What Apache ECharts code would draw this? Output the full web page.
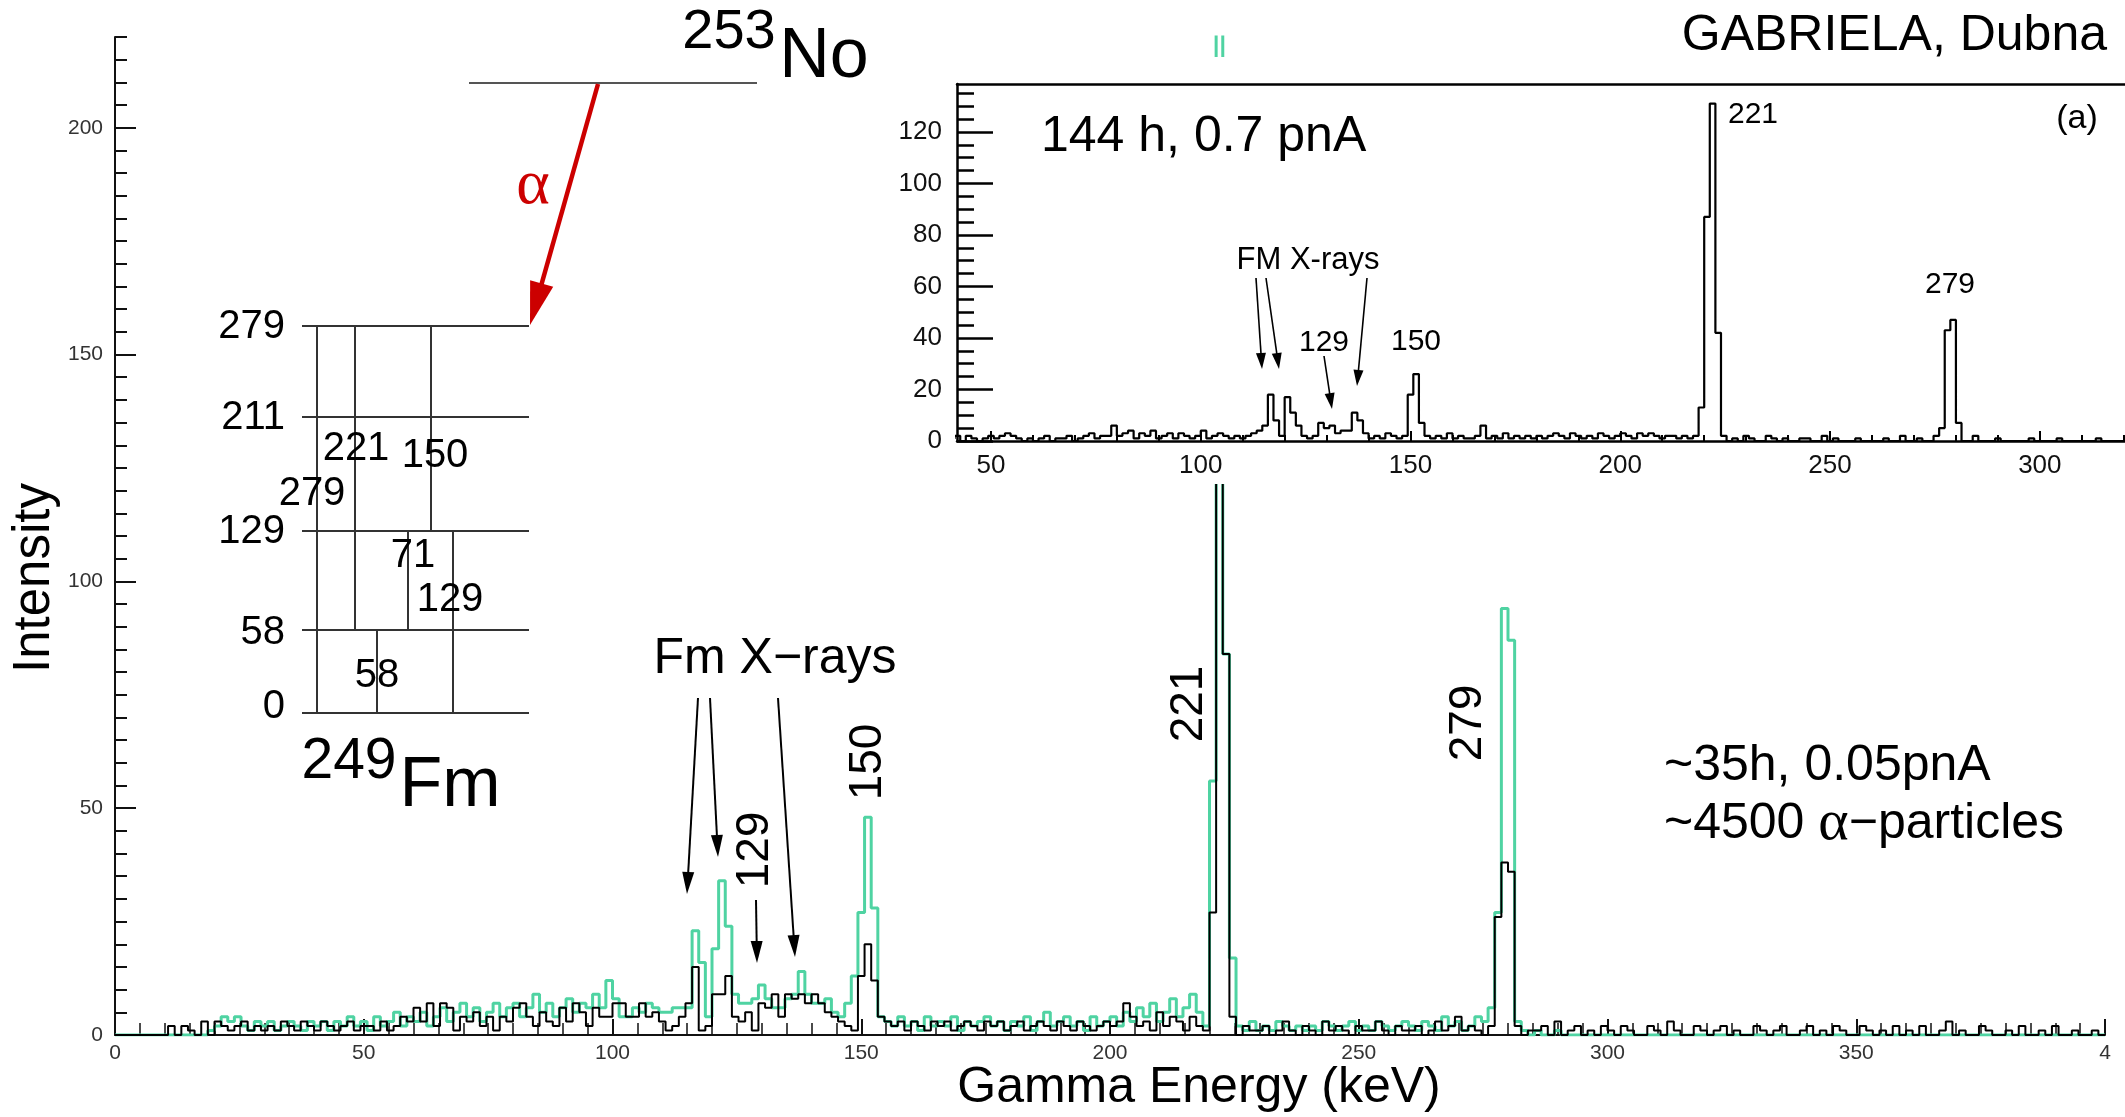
<!DOCTYPE html>
<html><head><meta charset="utf-8">
<script src="https://cdn.jsdelivr.net/npm/echarts@6/dist/echarts.min.js"></script>
<style>html,body{margin:0;padding:0;background:#fff}#c{width:2125px;height:1117px}</style>
</head><body><div id="c"></div><script>
// ---------- data ----------
const BIN = 4 / 3;           // keV per channel
const MAIN_START = 0;        // keV of first channel (main spectrum)
const INSET_START = 40;      // keV of first channel (inset spectrum)

// main spectrum, black (low-intensity run) counts per channel, 0-400 keV
const mainBlack = [
 0,0,0,0,0,0,0,0,2,0,2,1,0,3,0,
 3,2,1,2,3,1,2,1,2,1,3,2,1,3,2,
 1,3,2,1,2,3,1,2,2,1,3,1,2,4,3,
 6,3,7,2,7,6,1,4,3,5,2,4,1,4,3,
 6,7,4,2,5,3,2,6,3,7,5,2,6,4,4,
 7,7,4,4,7,4,5,3,1,2,4,7,15,1,2,
 9,9,13,4,3,5,1,7,6,9,4,9,8,9,7,
 9,7,5,4,3,2,1,13,20,12,4,3,2,3,1,
 3,2,1,3,2,3,1,2,3,2,1,3,2,3,1,
 2,3,1,2,3,2,1,3,2,1,3,2,1,2,3,
 2,3,7,4,2,3,1,5,2,4,3,1,4,2,1,
 27,140,84,4,0,2,1,1,2,0,1,3,1,0,2,
 1,0,3,1,2,1,0,2,1,1,3,1,0,2,1,
 1,2,0,1,3,1,2,4,1,2,1,0,2,26,38,
 36,2,0,1,1,2,0,3,0,1,2,0,1,0,2,
 1,0,2,1,0,0,2,1,0,3,1,0,0,2,1,
 0,1,2,0,1,0,0,2,1,0,1,2,0,0,1,
 2,0,1,0,2,1,0,0,2,1,0,1,0,2,0,
 1,0,2,0,0,1,3,0,1,0,0,2,1,0,0,
 1,0,2,0,0,1,0,2,0,0,1,0,0,1,0
];
// main spectrum, green counts per channel
const mainGreen = [
 0,0,0,0,0,0,0,0,0,0,0,0,0,0,1,
 2,4,3,4,2,1,3,2,3,1,2,3,2,1,3,
 2,3,1,3,2,4,2,3,1,4,2,3,5,2,4,
 3,5,2,4,6,3,5,7,4,6,3,5,7,4,6,
 7,4,6,9,5,7,4,6,8,5,7,6,9,6,12,
 8,4,4,6,5,7,6,5,5,6,6,6,23,16,4,
 19,34,24,9,7,7,8,11,8,6,6,8,9,14,9,
 7,7,8,5,4,7,13,27,48,28,4,3,2,4,2,
 3,1,4,2,3,2,4,1,3,2,3,4,2,3,1,
 3,2,4,1,3,5,2,3,4,2,3,1,4,2,3,
 4,2,5,3,6,4,7,3,5,8,4,6,9,5,2,
 56,225,84,17,2,1,3,1,2,1,3,2,1,2,1,
 2,1,3,2,1,2,3,1,2,1,3,2,1,2,3,
 2,1,3,2,1,4,2,3,1,2,4,3,6,27,94,
 87,3,1,0,1,0,0,1,0,0,0,0,0,0,0,
 0,0,0,0,0,0,0,0,0,0,0,0,0,0,0,
 0,0,0,0,0,0,0,0,0,0,0,0,0,0,0,
 0,0,0,0,0,0,0,0,0,0,0,0,0,0,0,
 0,0,0,0,0,0,0,0,0,0,0,0,0,0,0,
 0,0,0,0,0,0,0,0,0,0,0,0,0,0,0
];
// inset (a): 144 h, 0.7 pnA, counts per channel from 40 keV
const insetCounts = [
 1,2,0,2,1,0,1,2,1,2,3,2,1,0,1,
 0,1,2,0,1,1,2,0,1,2,3,1,2,2,6,
 2,3,4,1,3,2,4,1,2,3,1,3,2,1,2,
 4,1,2,3,2,1,2,1,2,3,4,6,18,8,2,
 17,11,6,2,1,2,7,5,6,3,4,4,11,8,3,
 1,2,1,3,2,1,2,18,26,7,2,1,2,1,3,
 1,2,1,1,2,6,1,2,1,3,1,2,1,2,1,
 2,1,2,3,2,1,3,2,1,2,1,3,2,1,2,
 3,2,1,3,2,3,2,1,2,2,1,2,1,2,13,
 87,131,42,2,0,1,0,2,1,0,0,2,1,0,1,
 0,0,1,1,0,0,2,0,1,0,0,0,1,0,0,
 0,0,1,0,0,2,0,0,1,0,0,2,5,43,47,
 7,0,0,2,0,0,0,1,0,0,0,0,0,1,0,
 0,0,0,1,0,0,0,0,0,0,1,0,0,0,0
];
// tick labels
const mainYTicks = [0, 50, 100, 150, 200];
const insetXTicks = [50, 100, 150, 200, 250, 300];
const insetYTicks = [0, 20, 40, 60, 80, 100, 120];

// ---------- helpers ----------
const FONT = '"Liberation Sans", Arial, Helvetica, sans-serif';
const SERIF = '"Liberation Serif", "DejaVu Serif", serif';
function steps(counts, start) {
  const pts = counts.map((c, i) => [start + i * BIN, c]);
  pts.push([start + counts.length * BIN, counts[counts.length - 1]]);
  return pts;
}
function range(a, b, s) { const r = []; for (let v = a; v <= b + 1e-9; v += s) r.push(v); return r; }
function txt(text, x, y, size, o) {
  o = o || {};
  const st = { text: text, fontSize: size, fontFamily: o.family || FONT, fill: o.color || '#000',
      align: o.align || 'center', verticalAlign: o.va || 'middle' };
  if (o.rich) st.rich = o.rich;
  return { type: 'text', x: x, y: y, z: 20, rotation: o.rot || 0, style: st };
}
function seg(x1, y1, x2, y2, color, lw) {
  return { type: 'line', z: 20, shape: { x1, y1, x2, y2 }, style: { stroke: color || '#333', lineWidth: lw || 2 } };
}
function arrow(x1, y1, x2, y2, len, w, color, lw) {
  const dx = x2 - x1, dy = y2 - y1, L = Math.hypot(dx, dy), ux = dx / L, uy = dy / L;
  const bx = x2 - ux * len, by = y2 - uy * len, nx = -uy, ny = ux;
  return [seg(x1, y1, bx + ux * 2, by + uy * 2, color, lw),
    { type: 'polygon', z: 20, shape: { points: [[x2, y2], [bx + nx * w / 2, by + ny * w / 2], [bx - nx * w / 2, by - ny * w / 2]] }, style: { fill: color } }];
}

// ---------- graphic annotations ----------
const G = [];
// white panel behind inset
G.push({ type: 'rect', z: 5, shape: { x: 880, y: 57, width: 1245, height: 427 }, style: { fill: '#fff' } });
// axis titles
G.push(txt('Intensity', 35, 578, 51, { rot: Math.PI / 2 }));
G.push(txt('Gamma Energy (keV)', 1199, 1088, 50));
G.push(txt('GABRIELA, Dubna', 2107, 36, 50, { align: 'right' }));
// 253No level and alpha decay
G.push(txt('253', 729, 33, 56));
G.push(txt('No', 824, 58, 70));
G.push(seg(469, 83, 757, 83, '#555', 2));
G.push(...arrow(598, 84, 530, 325, 43, 24, '#cc0000', 4.5));
G.push(txt('\u03b1', 533, 186, 64, { color: '#cc0000', family: SERIF }));
// 249Fm level scheme
const levX1 = 302, levX2 = 529;
const levels = [[279, 326], [211, 417], [129, 531], [58, 630], [0, 713]];
levels.forEach(l => { G.push(seg(levX1, l[1], levX2, l[1], '#333', 2)); });
[['279', 327], ['211', 418], ['129', 532], ['58', 633], ['0', 707]].forEach(l => G.push(txt(l[0], 285, l[1], 40, { align: 'right' })));
G.push(seg(317, 326, 317, 713), seg(355, 326, 355, 630), seg(431, 326, 431, 531),
  seg(408, 531, 408, 630), seg(453, 531, 453, 713), seg(377, 630, 377, 713));
G.push(txt('221', 356, 449, 40), txt('150', 435, 456, 40), txt('279', 312, 494, 40),
  txt('71', 413, 556, 40), txt('129', 450, 600, 40), txt('58', 377, 676, 40));
G.push(txt('249', 349, 762, 57));
G.push(txt('Fm', 450, 787, 70));
// main spectrum annotations
G.push(txt('Fm X\u2212rays', 775, 659, 50));
G.push(...arrow(698, 698, 687, 894, 22, 12, '#000', 2));
G.push(...arrow(710, 698, 718, 857, 22, 12, '#000', 2));
G.push(...arrow(778, 698, 795, 957, 22, 12, '#000', 2));
G.push(...arrow(756, 900, 757, 963, 22, 12, '#000', 2));
G.push(txt('129', 755, 850, 46, { rot: Math.PI / 2 }));
G.push(txt('150', 868, 762, 46, { rot: Math.PI / 2 }));
G.push(txt('221', 1189, 704, 46, { rot: Math.PI / 2 }));
G.push(txt('279', 1468, 723, 46, { rot: Math.PI / 2 }));
G.push(txt('~35h, 0.05pnA', 1664, 766, 50, { align: 'left' }));
G.push(txt('~4500 {a|\u03b1}\u2212particles', 1664, 824, 50, { align: 'left',
  rich: { a: { fontFamily: SERIF, fontSize: 58, fill: '#000' } } }));
// inset annotations
G.push(txt('144 h, 0.7 pnA', 1041, 137, 50, { align: 'left' }));
G.push(txt('(a)', 2077, 119, 34));
G.push(txt('221', 1753, 115, 30));
G.push(txt('279', 1950, 285, 30));
G.push(txt('FM X-rays', 1308, 260, 31));
G.push(txt('129', 1324, 343, 30));
G.push(txt('150', 1416, 342, 30));
G.push(...arrow(1256, 278, 1262, 369, 16, 10, '#000', 1.6));
G.push(...arrow(1266, 278, 1279, 369, 16, 10, '#000', 1.6));
G.push(...arrow(1367, 278, 1357, 386, 16, 10, '#000', 1.6));
G.push(...arrow(1324, 356, 1332, 409, 16, 10, '#000', 1.6));

// ---------- chart ----------
const chart = echarts.init(document.getElementById('c'), null, { renderer: 'canvas' });
const mainLabel = { fontSize: 21, color: '#333', fontFamily: FONT };
const insetLabel = { fontSize: 26, color: '#111', fontFamily: FONT };
const INX = [41.9, 320.3], INY = [0, 138.6];
chart.setOption({
  animation: false,
  backgroundColor: '#fff',
  grid: [
    { left: 115, right: 20, top: 37, bottom: 82 },
    { left: 957, right: 0, top: 84, bottom: 676 }
  ],
  xAxis: [
    { type: 'value', gridIndex: 0, min: 0, max: 400, interval: 50,
      axisLine: { lineStyle: { color: '#111', width: 2 } },
      axisTick: { inside: true, length: 16, lineStyle: { color: '#111', width: 2 } },
      minorTick: { show: true, splitNumber: 10, length: 12, lineStyle: { color: '#111', width: 1.5 } },
      splitLine: { show: false },
      axisLabel: Object.assign({ margin: 8, formatter: v => v === 400 ? '4' : String(v) }, mainLabel) },
    { type: 'value', gridIndex: 1, min: INX[0], max: INX[1], z: 10, position: 'bottom',
      axisLine: { lineStyle: { color: '#000', width: 2.5 } },
      axisTick: { inside: true, length: 10, customValues: insetXTicks, lineStyle: { color: '#000', width: 2 } },
      splitLine: { show: false },
      axisLabel: Object.assign({ margin: 12, customValues: insetXTicks }, insetLabel) },
    { type: 'value', gridIndex: 1, min: INX[0], max: INX[1], z: 10, position: 'bottom',
      axisLine: { show: false },
      axisTick: { inside: true, length: 6, customValues: range(50, 320, 10), lineStyle: { color: '#000', width: 2 } },
      splitLine: { show: false }, axisLabel: { show: false } },
    { type: 'value', gridIndex: 1, min: INX[0], max: INX[1], z: 10, position: 'top',
      axisLine: { lineStyle: { color: '#000', width: 2.5 } },
      axisTick: { show: false }, splitLine: { show: false }, axisLabel: { show: false } }
  ],
  yAxis: [
    { type: 'value', gridIndex: 0, min: 0, max: 220, position: 'left',
      axisLine: { show: true, lineStyle: { color: '#111', width: 2 } },
      axisTick: { show: true, inside: true, length: 21, customValues: mainYTicks, lineStyle: { color: '#111', width: 2 } },
      splitLine: { show: false },
      axisLabel: Object.assign({ margin: 12, customValues: mainYTicks }, mainLabel) },
    { type: 'value', gridIndex: 0, min: 0, max: 220, position: 'left',
      axisLine: { show: false },
      axisTick: { show: true, inside: true, length: 12, customValues: range(5, 220, 5), lineStyle: { color: '#111', width: 2 } },
      splitLine: { show: false }, axisLabel: { show: false } },
    { type: 'value', gridIndex: 1, min: INY[0], max: INY[1], position: 'left', z: 10,
      axisLine: { show: true, lineStyle: { color: '#000', width: 2.5 } },
      axisTick: { show: true, inside: true, length: 36, customValues: insetYTicks, lineStyle: { color: '#000', width: 2.5 } },
      splitLine: { show: false },
      axisLabel: Object.assign({ margin: 15, customValues: insetYTicks }, insetLabel) },
    { type: 'value', gridIndex: 1, min: INY[0], max: INY[1], position: 'left', z: 10,
      axisLine: { show: false },
      axisTick: { show: true, inside: true, length: 17, customValues: range(5, 135, 5), lineStyle: { color: '#000', width: 2.5 } },
      splitLine: { show: false }, axisLabel: { show: false } }
  ],
  series: [
    { name: 'green', type: 'line', step: 'end', xAxisIndex: 0, yAxisIndex: 0, z: 2, symbol: 'none', clip: true,
      data: steps(mainGreen, MAIN_START), lineStyle: { color: '#4fd3a2', width: 3 } },
    { name: 'black', type: 'line', step: 'end', xAxisIndex: 0, yAxisIndex: 0, z: 3, symbol: 'none', clip: true,
      data: steps(mainBlack, MAIN_START), lineStyle: { color: '#000', width: 2 } },
    { name: 'inset', type: 'line', step: 'end', xAxisIndex: 1, yAxisIndex: 2, z: 11, symbol: 'none', clip: true,
      data: steps(insetCounts, INSET_START), lineStyle: { color: '#000', width: 2.2 } }
  ],
  graphic: { elements: G }
});
</script></body></html>
